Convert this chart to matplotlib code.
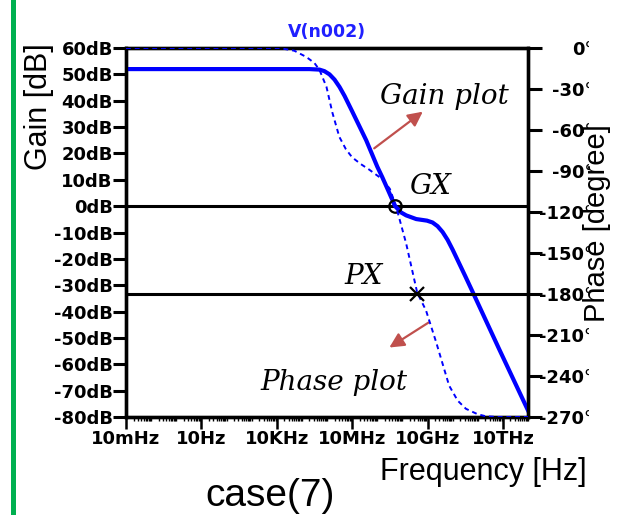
import numpy as np
import matplotlib
matplotlib.use('Agg')
import matplotlib.pyplot as plt
from matplotlib.lines import Line2D
from matplotlib.transforms import Bbox, TransformedBbox


# Data (log10 of frequency in Hz)
gain_dec = [-2, 5.3, 5.7, 5.9, 6.1, 6.3, 6.5, 6.7, 7.0, 7.56, 8.0, 8.2, 8.48, 8.71,
            8.95, 9.15, 9.55, 9.98, 10.2, 10.4, 10.6, 10.8, 11.0, 11.2, 11.5, 11.77,
            12.84, 14.0]
gain_db = [52, 52, 51.8, 51.2, 50, 48, 45.2, 41.8, 36, 25, 15, 11, 5, 0,
           -2.4, -3.5, -4.9, -5.5, -6.2, -7.6, -9.8, -12.8, -16.5, -20.5, -26.5, -32,
           -54, -77.5]

phase_dec = [-2, 4.1, 4.7, 5.18, 5.5, 5.7, 5.98, 6.21, 6.49, 6.75, 7.0, 7.35, 7.68,
             8.2, 8.5, 8.75, 9.15, 9.59, 9.94, 10.34, 10.86, 11.2, 11.53, 12.0,
             12.33, 12.8, 14.0]
phase_deg = [0, 0, -2, -6.6, -11, -16, -28.5, -47, -65, -74, -80, -85, -89,
             -96, -103, -116, -143, -179, -192, -215, -247, -258, -264, -268,
             -269.5, -270, -270]

gx_dec, gx_db = 8.71, 0
px_dec, px_deg = 9.59, -180

gain_ticks = list(range(60, -90, -10))
gain_labels = [f'{v}dB' for v in gain_ticks]
phase_ticks = list(range(0, -300, -30))
phase_labels = [f'{v}°' for v in phase_ticks]
freq_ticks = [1e-2, 1e1, 1e4, 1e7, 1e10, 1e13]
freq_labels = ['10mHz', '10Hz', '10KHz', '10MHz', '10GHz', '10THz']

W, H = 620, 515


def fx(x):
    return x / W


def fy(y):
    return 1 - y / H


fig = plt.figure(figsize=(6.2, 5.15), dpi=100)
ax = fig.add_axes([fx(126), fy(417), fx(528) - fx(126), fy(48) - fy(417)])
axp = ax.twinx()

tick_font = dict(family='DejaVu Sans', weight='bold', size=13)

# gain curve
ax.semilogx(10 ** np.array(gain_dec), gain_db, color='#0000ff', lw=3, zorder=3)
ax.axhline(0, color='black', lw=2.2, zorder=2)
ax.plot([10 ** gx_dec], [gx_db], 'o', ms=9, mfc='none', mec='black', mew=1.6, zorder=5)
ax.set_ylim(-80, 60)
ax.set_yticks(gain_ticks)
ax.set_yticklabels(gain_labels, fontdict=tick_font)
ax.tick_params(axis='y', length=9.5, width=2.2, pad=0)

# phase curve
axp.semilogx(10 ** np.array(phase_dec), phase_deg, color='#0000ff', lw=1.4,
             dashes=(2.5, 2), zorder=3)
axp.axhline(-180, color='black', lw=2.2, zorder=2)
axp.plot([10 ** px_dec], [px_deg], 'x', ms=10, mec='black', mew=1.6, zorder=5)
axp.set_ylim(-270, 0)
axp.set_yticks(phase_ticks)
axp.set_yticklabels(phase_labels, fontdict=tick_font)
axp.tick_params(axis='y', length=10, width=2.2, pad=37)

# frequency axis (set last, semilogx on the twin resets it)
ax.set_xlim(1e-2, 1e14)
ax.set_xticks(freq_ticks)
ax.set_xticklabels(freq_labels, fontdict=tick_font)
ax.xaxis.set_minor_locator(matplotlib.ticker.LogLocator(base=10, subs=np.arange(1, 10), numticks=100))
ax.xaxis.set_minor_formatter(matplotlib.ticker.NullFormatter())
ax.tick_params(axis='x', which='major', length=8.5, width=1.8, pad=1)
ax.tick_params(axis='x', which='minor', length=3, width=1)

for a in (ax, axp):
    for s in a.spines.values():
        s.set_linewidth(2.4)
        s.set_color('black')

# right labels are cut off at the window edge in the original
clip = TransformedBbox(Bbox.from_extents(0, 0, fx(589), 1), fig.transFigure)
for lab in axp.get_yticklabels():
    lab.set_horizontalalignment('right')
    lab.set_clip_on(True)
    lab.set_clip_box(clip)

# labels and notes
fig.text(fx(39), fy(107), 'Gain [dB]', rotation=90, ha='center', va='center',
         family='Liberation Sans', size=22)
fig.text(fx(597), fy(223), 'Phase [degree]', rotation=90, ha='center', va='center',
         family='Liberation Sans', size=21)
fig.text(fx(483), fy(472), 'Frequency [Hz]', ha='center', va='center',
         family='Liberation Sans', size=22)
fig.text(fx(270), fy(496), 'case(7)', ha='center', va='center',
         family='Liberation Sans', size=28)
fig.text(fx(327), fy(32), 'V(n002)', ha='center', va='center', color='#2020ff',
         family='DejaVu Sans', weight='bold', size=12.5)

note_font = dict(family='DejaVu Serif', style='italic', size=20)
fig.text(fx(444), fy(96), 'Gain plot', ha='center', va='center', **note_font)
fig.text(fx(334), fy(382), 'Phase plot', ha='center', va='center', **note_font)
fig.text(fx(430), fy(187), 'GX', ha='center', va='center', **note_font)
fig.text(fx(364), fy(277), 'PX', ha='center', va='center', **note_font)

arrow = dict(arrowstyle='-|>', color='#c0504d', lw=1.6, mutation_scale=22)
ax.annotate('', xy=(fx(425), fy(110)), xytext=(fx(372), fy(150)),
            xycoords='figure fraction', textcoords='figure fraction', arrowprops=arrow)
ax.annotate('', xy=(fx(387), fy(349)), xytext=(fx(431), fy(321)),
            xycoords='figure fraction', textcoords='figure fraction', arrowprops=arrow)

fig.add_artist(Line2D([fx(12.5), fx(12.5)], [0, 1], transform=fig.transFigure,
                      color='#00b050', lw=3.6))

plt.savefig('out.png', dpi=100)
